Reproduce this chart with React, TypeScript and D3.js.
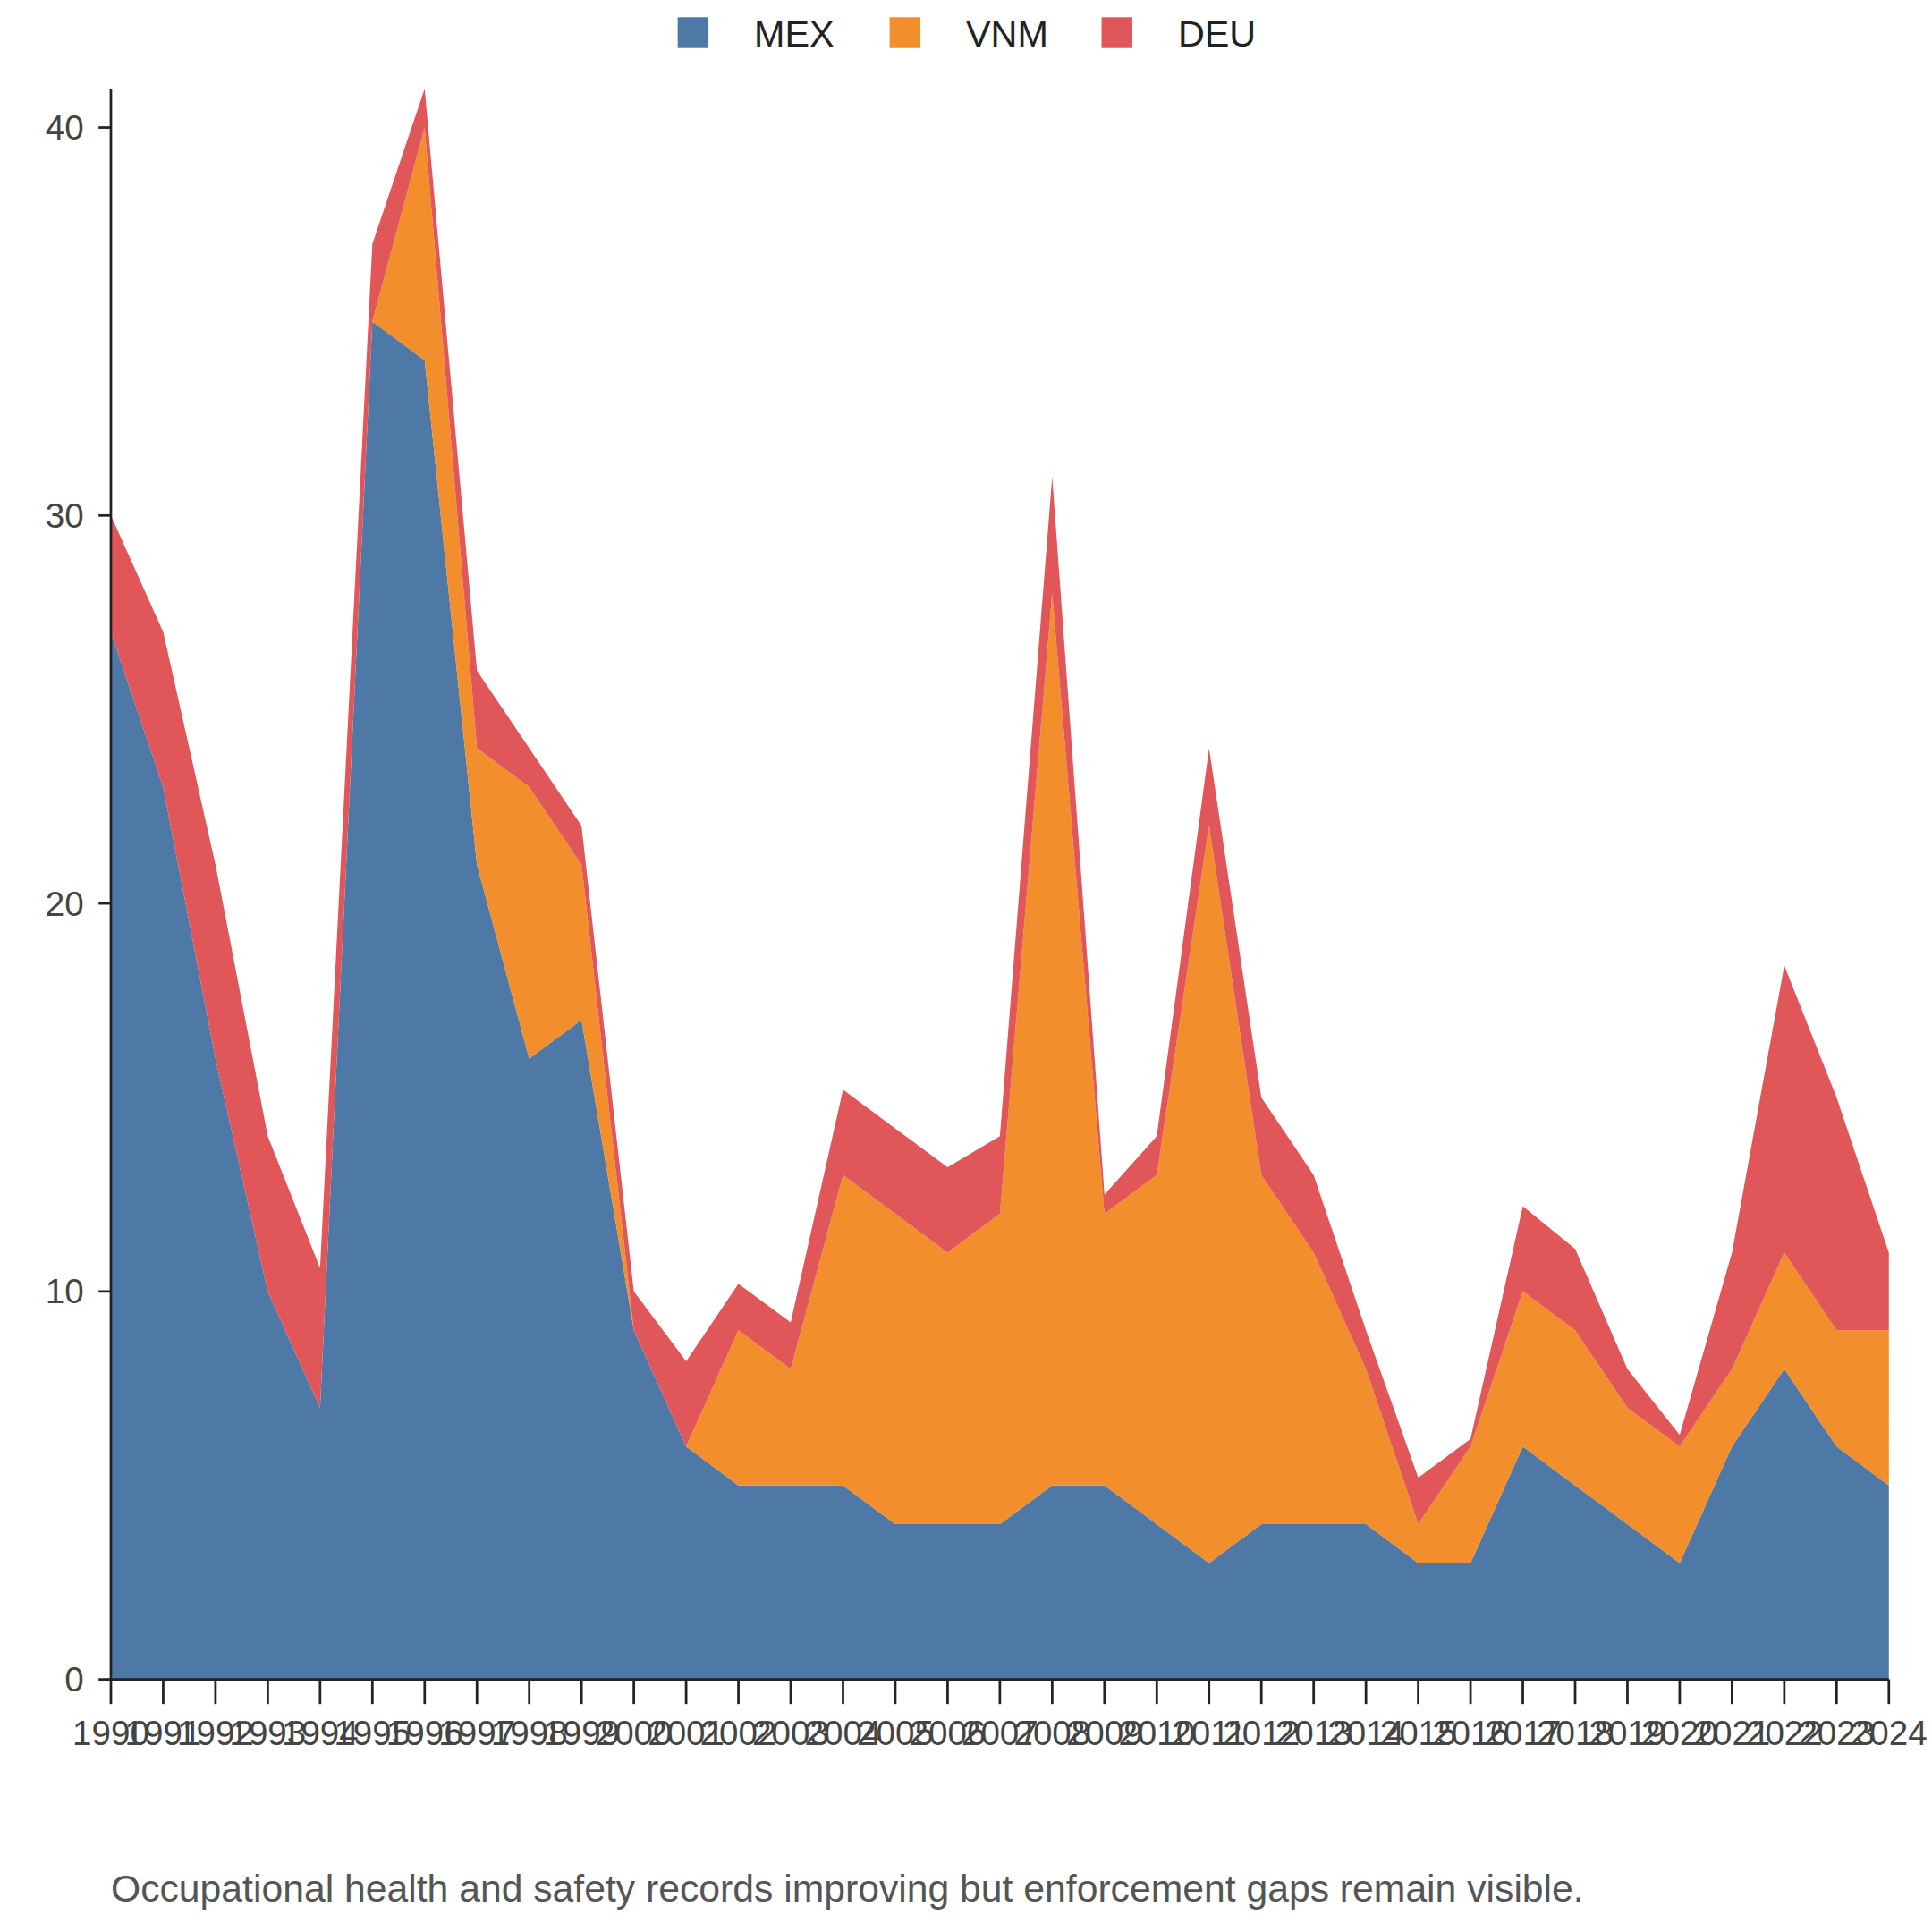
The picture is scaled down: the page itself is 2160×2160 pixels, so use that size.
import React from "react";
import * as d3 from "d3";

const years = d3.range(1990, 2025);
const MEX = [27,23,16,10,7,35,34,21,16,17,9,6,5,5,5,4,4,4,5,5,4,3,4,4,4,3,3,6,5,4,3,6,8,6,5];
const VNM = [0,0,0,0,0,0,6,3,7,4,0,0,4,3,8,8,7,8,23,7,9,19,9,7,4,1,3,4,4,3,3,2,3,3,4];
const DEU = [3,4,5,4,3.6,2,1,2,1,1,1,2.2,1.2,1.2,2.2,2.2,2.2,2,3,0.5,1,2,2,2,1,1.2,0.2,2.2,2.1,1,0.3,3,7.4,6,2];
const keys = ["MEX", "VNM", "DEU"];
const colors = ["#4e79a7", "#f28e2b", "#e15759"];
const yTicks = [0, 10, 20, 30, 40];

export default function App() {
  const W = 1568, H = 1568, L = 90, R = 1533, T = 72, B = 1363;
  const x = d3.scaleLinear().domain([1990, 2024]).range([L, R]);
  const y = d3.scaleLinear().domain([0, 41]).range([B, T]);
  const rows = years.map((yr, i) => ({ year: yr, MEX: MEX[i], VNM: VNM[i], DEU: DEU[i] }));
  const series = d3.stack<any>().keys(keys)(rows);
  const area = d3.area<any>().x(d => x(d.data.year)).y0(d => y(d[0])).y1(d => y(d[1]));
  const font = "Liberation Sans, Arial, sans-serif";
  return (
    <svg viewBox={`0 0 ${W} ${H}`} width={2160} height={2160}
      style={{ position: "absolute", left: 0, top: 0, background: "#fff" }} fontFamily={font}>
      {series.map((s, i) => <path key={keys[i]} d={area(s) || ""} fill={colors[i]} />)}
      <line x1={L} x2={L} y1={T} y2={B} stroke="#222" strokeWidth={2} />
      <line x1={L} x2={R} y1={B} y2={B} stroke="#222" strokeWidth={2} />
      {yTicks.map(t => (
        <g key={t}>
          <line x1={L - 10} x2={L} y1={y(t)} y2={y(t)} stroke="#222" strokeWidth={2} />
          <text x={L - 22} y={y(t)} dy="0.35em" textAnchor="end" fontSize={28} fill="#444">{t}</text>
        </g>
      ))}
      {years.map(yr => (
        <g key={yr}>
          <line x1={x(yr)} x2={x(yr)} y1={B} y2={B + 20} stroke="#222" strokeWidth={2} />
          <text x={x(yr)} y={B + 53} textAnchor="middle" fontSize={28} fill="#444">{yr}</text>
        </g>
      ))}
      {keys.map((k, i) => (
        <g key={k} transform={`translate(${550 + i * 172},14)`}>
          <rect width={25} height={25} fill={colors[i]} />
          <text x={62} y={13} dy="0.35em" fontSize={30} fill="#222">{k}</text>
        </g>
      ))}
      <text x={L} y={1543} fontSize={31} fill="#555">
        Occupational health and safety records improving but enforcement gaps remain visible.
      </text>
    </svg>
  );
}
